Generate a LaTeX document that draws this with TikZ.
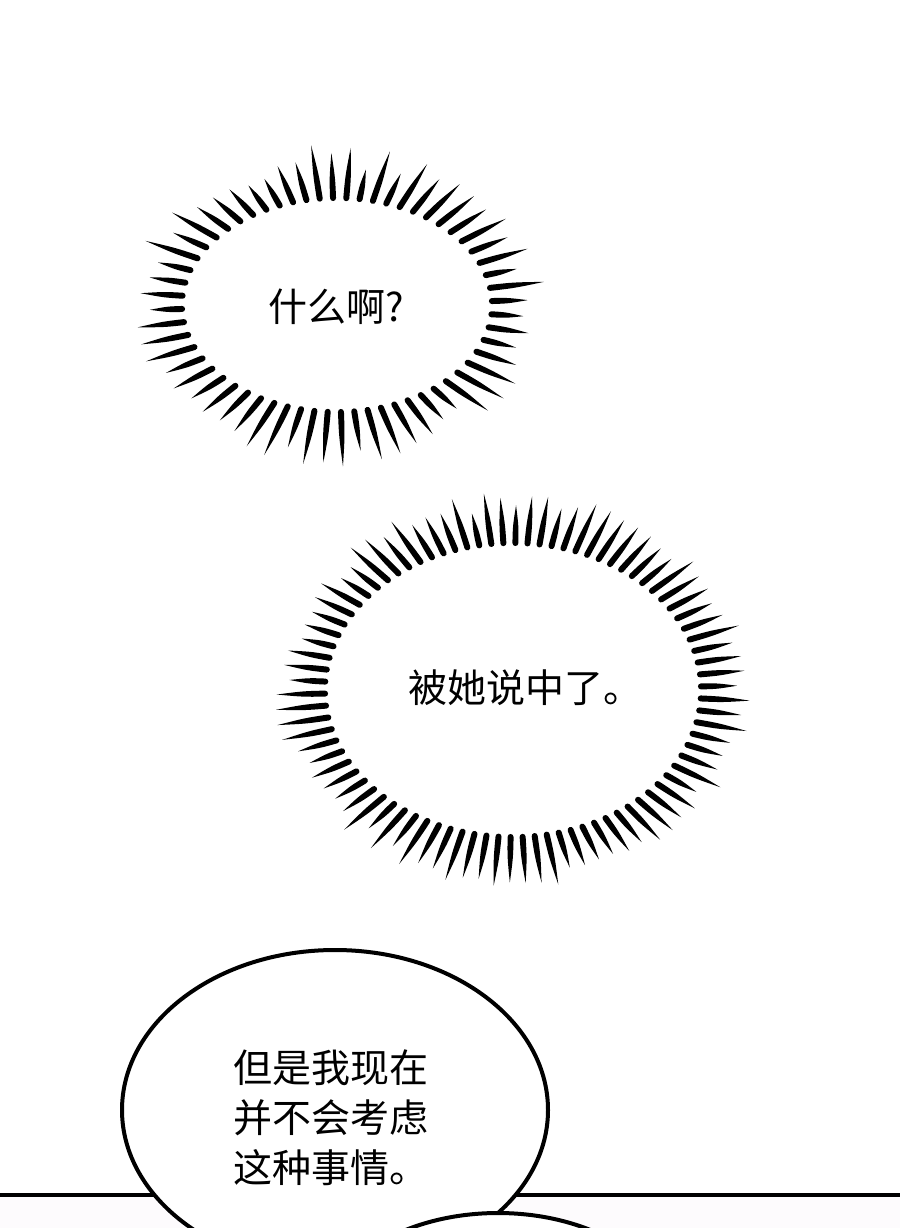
\documentclass[tikz,border=0pt]{standalone}
\usepackage{fontspec}
\newfontfamily\cjk{Noto Sans CJK SC}
\usetikzlibrary{positioning}
\definecolor{panel}{RGB}{253,251,253}
\tikzset{speech/.style={draw=none,inner sep=0mm,anchor=west,align=left,font=\cjk\fontsize{39}{50}\selectfont,}}
\tikzset{spike/.style={fill=black,draw=none,}}
\tikzset{balloon/.style={draw=black,line width=4,fill=white,}}
\tikzset{
	x=1pt,
	y=1pt,
}

\begin{document}
\begin{tikzpicture}

\fill[white] (0,0) rectangle (900,-1228);
\useasboundingbox (0,0) rectangle (900,-1228);

% spiky balloons: centre / half axes / spikes / shortest / spread
\foreach \cx/\cy/\ra/\rb/\num/\lmin/\lvar in {337/-305/155/107/60/30/25, 513/-690/188/147/86/32/20}{
	\pgfmathsetmacro{\tilt}{28.65*(\ra-\rb)/(\ra+\rb)}
	\foreach \n in {1,...,\num}{
		\pgfmathsetmacro{\base}{(\n+0.3)/\num*360}
		\pgfmathsetmacro{\tp}{\base+\tilt*sin(2*\base)}
		\pgfmathsetmacro{\len}{\lmin+\lvar*mod(abs(sin(\n*97.3+\cx)*911),1)}
		\pgfmathsetmacro{\px}{\cx+\ra*cos(\tp)}
		\pgfmathsetmacro{\py}{\cy+\rb*sin(\tp)}
		\pgfmathsetmacro{\ang}{atan2(\rb*sin(\tp),\ra*cos(\tp))}
		\fill[spike,shift={(\px,\py)},rotate=\ang] (0,-3) .. controls (0.45*\len,-2.9) .. (\len,0) .. controls (0.45*\len,2.9) .. (0,3) arc[start angle=90,end angle=270,radius=3];
	}
}

\node[speech] (what) at (268,-307) {什么啊?};
\node[speech] (guessed) at (408,-688) {被她说中了。};

% lower panel
\fill[panel] (0,-1195) rectangle (900,-1228);
\coordinate (edge west) at (0,-1195);
\coordinate (edge east) at (900,-1195);
\draw[line width=4] (edge west) -- (edge east);

\draw[balloon] (335,-1110) ellipse[x radius=213,y radius=160];
\node[speech] (thought) at (233,-1118) {但是我现在\\并不会考虑\\这种事情。};
\draw[balloon] (498,-1333) ellipse[x radius=180,y radius=120];

\end{tikzpicture}
\end{document}
